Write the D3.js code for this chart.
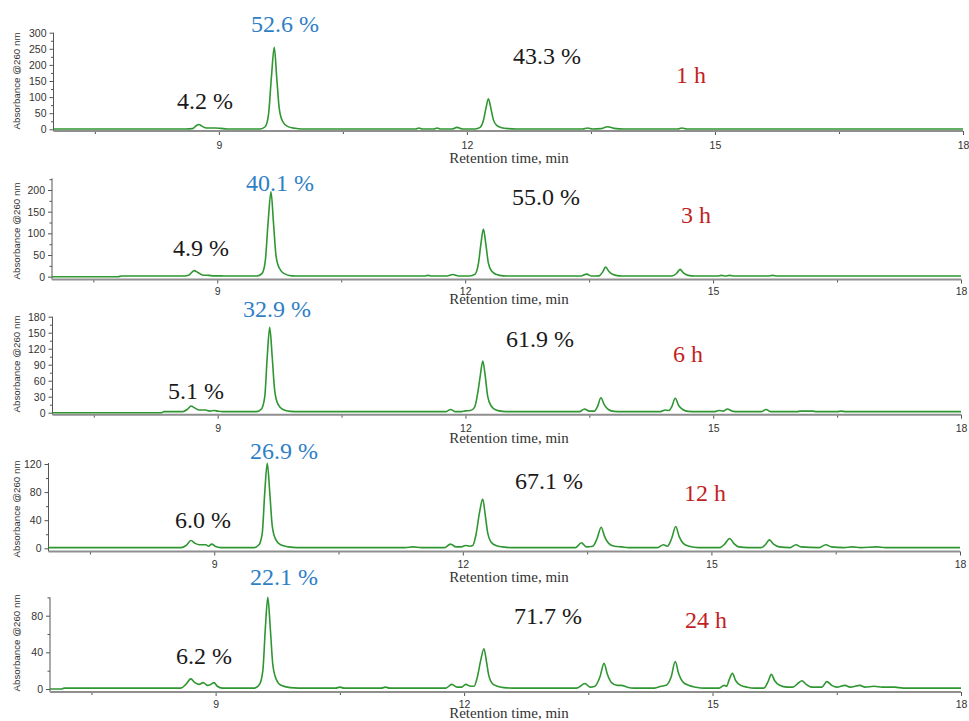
<!DOCTYPE html>
<html>
<head>
<meta charset="utf-8">
<script src="https://cdn.jsdelivr.net/npm/d3@7"></script>
<style>
    body { margin: 0; background: #fff; }
    .tick text { font-family: "Liberation Sans", Arial, sans-serif; font-size: 10.5px; fill: #333; }
    .tick line { stroke: #555; }
</style>
</head>
<body>
<svg id="chart" width="969" height="721"></svg>
<script>
// ---- data: [retention time (min), absorbance] ----

const trace1h = [
    [7.0, 1], [8.6, 1], [8.68, 2], [8.73, 12], [8.76, 15], [8.80, 9], [8.85, 4], [8.95, 4], [9.02, 3], [9.1, 1],
    [9.50, 1], [9.56, 8], [9.60, 45], [9.635, 160], [9.67, 255], [9.70, 160], [9.73, 65], [9.77, 25], [9.83, 9], [9.92, 3], [10.0, 1],
    [11.38, 1], [11.42, 4], [11.46, 1], [11.6, 1], [11.64, 4], [11.68, 1], [11.82, 1], [11.88, 6], [11.95, 1],
    [12.10, 1], [12.16, 6], [12.20, 28], [12.23, 65], [12.26, 95], [12.29, 65], [12.32, 30], [12.36, 12], [12.42, 5], [12.5, 2], [12.6, 1],
    [13.40, 1], [13.46, 4], [13.52, 1], [13.62, 2], [13.70, 8], [13.78, 3], [13.9, 1],
    [14.55, 1], [14.60, 4], [14.66, 1],
    [18, 1]
]

const trace3h = [
    [7.0, 0], [7.8, 0], [7.84, 1.5], [8.6, 1.5], [8.66, 4], [8.72, 14], [8.77, 9], [8.82, 4], [8.9, 3], [8.96, 2], [9.05, 2], [9.1, 1.5],
    [9.48, 1.5], [9.54, 7], [9.58, 35], [9.615, 125], [9.65, 196], [9.68, 125], [9.71, 50], [9.75, 20], [9.81, 7], [9.9, 2], [10.0, 1.5],
    [11.5, 1.5], [11.55, 3], [11.6, 1.5], [11.78, 1.5], [11.85, 5], [11.92, 1.5],
    [12.05, 1.5], [12.12, 6], [12.16, 30], [12.19, 75], [12.22, 110], [12.25, 75], [12.28, 32], [12.32, 13], [12.38, 5], [12.46, 2], [12.55, 1.5],
    [13.40, 1.5], [13.47, 6], [13.53, 1.5], [13.62, 2], [13.66, 10], [13.70, 22], [13.74, 12], [13.79, 5], [13.86, 2], [13.95, 1.5],
    [14.50, 1.5], [14.56, 8], [14.60, 17], [14.64, 9], [14.70, 3], [14.78, 1.5],
    [15.05, 1.5], [15.1, 3], [15.15, 1.5], [15.2, 3], [15.26, 1.5], [15.66, 1.5], [15.72, 3], [15.78, 1.5],
    [18, 1.5]
]

const trace6h = [
    [7.0, 0], [8.32, 0], [8.35, 2], [8.58, 2], [8.63, 6], [8.68, 12.5], [8.72, 9], [8.78, 5], [8.85, 5], [8.9, 3], [8.96, 4], [9.0, 3], [9.06, 2],
    [9.47, 2], [9.53, 7], [9.57, 30], [9.60, 105], [9.63, 160], [9.66, 105], [9.69, 42], [9.73, 16], [9.79, 6], [9.88, 2.5], [9.98, 2],
    [11.76, 2], [11.82, 6], [11.88, 2], [11.95, 2], [12.0, 3.5], [12.06, 4],
    [12.11, 10], [12.15, 38], [12.18, 70], [12.21, 97], [12.24, 68], [12.27, 30], [12.31, 13], [12.37, 5], [12.45, 2.5], [12.55, 2],
    [13.38, 2], [13.44, 7], [13.50, 3], [13.56, 3], [13.60, 12], [13.64, 28], [13.68, 15], [13.73, 6], [13.80, 2.5], [13.9, 2],
    [14.36, 2], [14.42, 5], [14.46, 4], [14.50, 12], [14.54, 27], [14.58, 14], [14.63, 6], [14.70, 2.5], [14.8, 2],
    [15.02, 2], [15.07, 4], [15.12, 3], [15.17, 7], [15.23, 3], [15.3, 2],
    [15.58, 2], [15.64, 6], [15.70, 2], [16.02, 2], [16.05, 3], [16.2, 3], [16.25, 2], [16.5, 2], [16.55, 3], [16.6, 2],
    [18, 2]
]

const trace12h = [
    [7.0, 1], [8.6, 1], [8.66, 4], [8.72, 11], [8.77, 7], [8.82, 5], [8.9, 5], [8.93, 3], [8.97, 6], [9.01, 3], [9.08, 1],
    [9.48, 1], [9.54, 5], [9.58, 22], [9.61, 80], [9.64, 121], [9.67, 80], [9.70, 32], [9.74, 13], [9.80, 5], [9.9, 2], [10.0, 1],
    [11.3, 1], [11.4, 2], [11.5, 1], [11.78, 1], [11.85, 6], [11.92, 2], [11.98, 2], [12.03, 4], [12.08, 3],
    [12.12, 4], [12.16, 20], [12.20, 50], [12.24, 70], [12.27, 48], [12.30, 22], [12.34, 9], [12.40, 4], [12.48, 2], [12.58, 1],
    [13.36, 1], [13.43, 8], [13.49, 2], [13.57, 3], [13.62, 14], [13.67, 30], [13.71, 17], [13.76, 7], [13.83, 3], [13.92, 2], [14.0, 1],
    [14.35, 1], [14.42, 5], [14.47, 3], [14.52, 14], [14.57, 31], [14.61, 17], [14.66, 7], [14.73, 3], [14.85, 1],
    [15.1, 1], [15.16, 6], [15.22, 14], [15.27, 7], [15.33, 2], [15.45, 1],
    [15.6, 1], [15.65, 5], [15.7, 12], [15.75, 6], [15.82, 2],
    [15.95, 1], [16.02, 5], [16.08, 2], [16.3, 1], [16.38, 5], [16.45, 2], [16.6, 1], [16.7, 2], [16.8, 1], [17.0, 2], [17.1, 1],
    [18, 1]
]

const trace24h = [
    [7.0, 0], [7.14, 0], [7.17, 1], [8.58, 1], [8.64, 5], [8.70, 11], [8.75, 7], [8.80, 5], [8.85, 7], [8.90, 4], [8.94, 5], [8.98, 7], [9.02, 3], [9.08, 1],
    [9.47, 1], [9.53, 5], [9.57, 20], [9.60, 66], [9.63, 100], [9.66, 66], [9.69, 27], [9.73, 11], [9.79, 4], [9.9, 1.5], [10.0, 1],
    [10.45, 1], [10.5, 2], [10.55, 1], [11.0, 1], [11.05, 2], [11.1, 1],
    [11.78, 1], [11.85, 5], [11.92, 2], [11.97, 2], [12.02, 5], [12.08, 3],
    [12.12, 3], [12.16, 13], [12.20, 31], [12.24, 44], [12.27, 30], [12.30, 14], [12.34, 6], [12.40, 3], [12.48, 1.5], [12.6, 1],
    [13.36, 1], [13.46, 6], [13.52, 2], [13.58, 3], [13.64, 13], [13.69, 28], [13.73, 16], [13.78, 7], [13.85, 4], [13.9, 4], [13.97, 2], [14.05, 1],
    [14.3, 1], [14.38, 3], [14.44, 4], [14.50, 13], [14.55, 30], [14.59, 17], [14.64, 8], [14.71, 4], [14.8, 2], [14.9, 1],
    [15.08, 1], [15.14, 4], [15.17, 3], [15.20, 10], [15.24, 17], [15.28, 9], [15.34, 4], [15.42, 2], [15.5, 1],
    [15.62, 1], [15.67, 8], [15.71, 16], [15.75, 9], [15.81, 4], [15.9, 2], [15.97, 2], [16.03, 6], [16.08, 9], [16.13, 5], [16.2, 2],
    [16.32, 2], [16.38, 8], [16.44, 4], [16.5, 2], [16.6, 4], [16.66, 2], [16.78, 4], [16.84, 2], [16.95, 3], [17.05, 2], [17.2, 2], [17.3, 1],
    [18, 1]
]

const traces = [trace1h, trace3h, trace6h, trace12h, trace24h]
const timeLabels = ['1 h', '3 h', '6 h', '12 h', '24 h']
const leftPct = ['4.2 %', '4.9 %', '5.1 %', '6.0 %', '6.2 %']
const mainPct = ['52.6 %', '40.1 %', '32.9 %', '26.9 %', '22.1 %']
const restPct = ['43.3 %', '55.0 %', '61.9 %', '67.1 %', '71.7 %']

const yTop = [300, 200, 180, 120, 80]      // highest labelled tick
const yStep = [50, 50, 30, 40, 40]
const yMinorStep = [25, 25, 15, 20, 20]
const xDomain = [7, 18]
const xTicks = [9, 12, 15, 18]
const xMinor = [7.5, 10.5, 13.5, 16.5]

// ---- layout (pixels), one entry per panel ----
const layout = [
    {x0: 53.5, x1: 963, zero: 129.3, top: 32.7, lineTop: 32.7, axisY: 131, pad: 7, yTitle: 81, xTitle: 163,
        lbl: [[205, 109], [285, 32], [547, 64], [691, 83]]},
    {x0: 52, x1: 961, zero: 276.7, top: 190, lineTop: 178.5, axisY: 279.5, pad: 4, yTitle: 231, xTitle: 304,
        lbl: [[201, 256], [280, 191], [546, 205], [696, 223]]},
    {x0: 52.5, x1: 961, zero: 412.7, top: 316.7, lineTop: 316.7, axisY: 414.7, pad: 6, yTitle: 364, xTitle: 443,
        lbl: [[196, 399], [277, 317], [540, 347], [688, 362]]},
    {x0: 48.5, x1: 960, zero: 548.3, top: 464, lineTop: 463, axisY: 551.5, pad: 5, yTitle: 509, xTitle: 582,
        lbl: [[203, 528], [284, 459], [549, 489], [705, 501]]},
    {x0: 50, x1: 961, zero: 689, top: 615.7, lineTop: 597.5, axisY: 692, pad: 5, yTitle: 643, xTitle: 718,
        lbl: [[204, 664], [284, 585], [548, 624], [706, 628]]}
]

const labelColors = ['#1a1a1a', '#2f7fc6', '#1a1a1a', '#c21f24']

const svg = d3.select('#chart')

function drawPanel(i) {
    const L = layout[i]
    const g = svg.append('g')

    const x = d3.scaleLinear().domain(xDomain).range([L.x0, L.x1])
    const y = d3.scaleLinear().domain([0, yTop[i]]).range([L.zero, L.top])
    const yMaxLine = y.invert(L.lineTop)

    // minor y ticks
    g.append('g')
        .attr('transform', `translate(${L.x0},0)`)
        .call(d3.axisLeft(y)
            .tickValues(d3.range(yMinorStep[i], yMaxLine + 0.5, yStep[i]).filter(v => v % yStep[i] !== 0))
            .tickSize(2.5).tickFormat(''))
        .call(a => a.select('.domain').remove())

    // major y ticks
    g.append('g')
        .attr('transform', `translate(${L.x0},0)`)
        .call(d3.axisLeft(y).tickValues(d3.range(0, yTop[i] + 1, yStep[i])).tickSize(4).tickPadding(3))
        .call(a => a.select('.domain').remove())

    // x ticks
    g.append('g')
        .attr('transform', `translate(0,${L.axisY})`)
        .call(d3.axisBottom(x).tickValues(xMinor).tickSize(3).tickFormat(''))
        .call(a => a.select('.domain').remove())
    g.append('g')
        .attr('transform', `translate(0,${L.axisY})`)
        .call(d3.axisBottom(x).tickValues(xTicks).tickSize(4).tickPadding(L.pad).tickFormat(d3.format('d')))
        .call(a => a.select('.domain').remove())

    // axis lines
    g.append('line')
        .attr('x1', L.x0).attr('x2', L.x0)
        .attr('y1', L.lineTop).attr('y2', L.axisY)
        .attr('stroke', '#555').attr('stroke-width', 1)
    g.append('line')
        .attr('x1', L.x0).attr('x2', L.x1)
        .attr('y1', L.axisY).attr('y2', L.axisY)
        .attr('stroke', '#8f8f8f').attr('stroke-width', 2)

    // the trace
    const line = d3.line()
        .x(d => x(d[0]))
        .y(d => y(d[1]))
        .curve(d3.curveMonotoneX)

    g.append('path')
        .datum(traces[i])
        .attr('d', line)
        .attr('fill', 'none')
        .attr('stroke', '#2f9632')
        .attr('stroke-width', 1.6)
        .attr('stroke-linejoin', 'round')

    // titles
    g.append('text')
        .attr('transform', `translate(17,${L.yTitle}) rotate(-90)`)
        .attr('text-anchor', 'middle')
        .attr('dy', '0.35em')
        .attr('textLength', 97)
        .attr('lengthAdjust', 'spacingAndGlyphs')
        .style('font-family', '"Liberation Sans", Arial, sans-serif')
        .style('font-size', '9.7px')
        .style('fill', '#333')
        .text('Absorbance @260 nm')

    g.append('text')
        .attr('x', 509).attr('y', L.xTitle)
        .attr('text-anchor', 'middle')
        .style('font-family', '"Liberation Serif", "DejaVu Serif", serif')
        .style('font-size', '15px')
        .style('fill', '#333')
        .text('Retention time, min')

    // percentages and time label
    const texts = [leftPct[i], mainPct[i], restPct[i], timeLabels[i]]
    g.selectAll('text.ann')
        .data(texts)
        .enter()
        .append('text')
        .attr('class', 'ann')
        .attr('x', (d, k) => L.lbl[k][0])
        .attr('y', (d, k) => L.lbl[k][1])
        .attr('text-anchor', 'middle')
        .style('font-family', '"Liberation Serif", "DejaVu Serif", serif')
        .style('font-size', '24px')
        .style('fill', (d, k) => labelColors[k])
        .text(d => d)
}

for (let i = 0; i < traces.length; i++) {
    drawPanel(i)
}
</script>
</body>
</html>
